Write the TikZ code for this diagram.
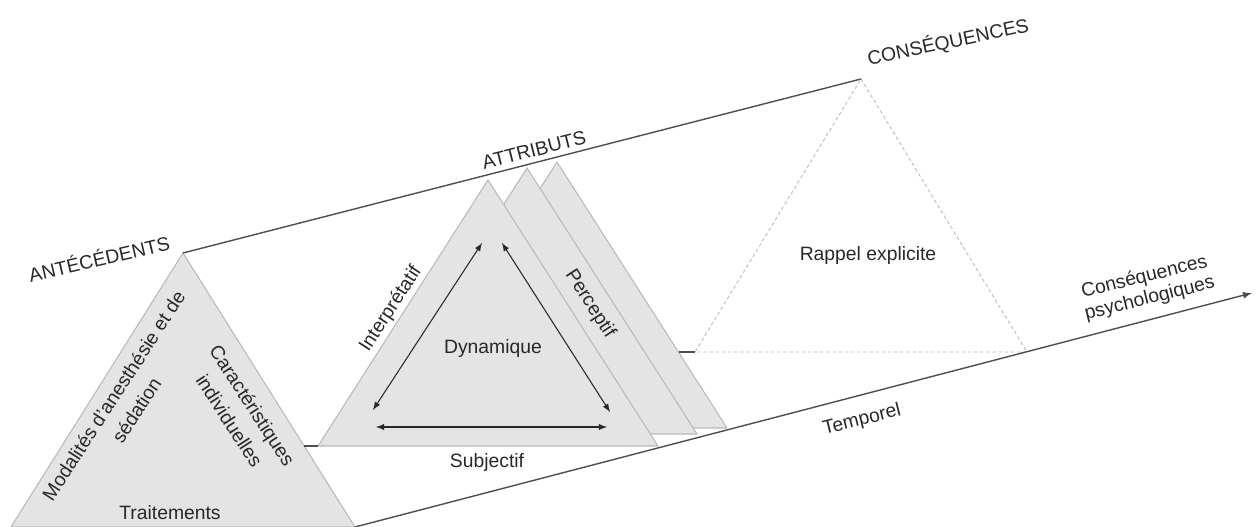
\documentclass[tikz,border=0pt]{standalone}
\usepackage{fontspec}
\setmainfont{Liberation Sans}
\usetikzlibrary{arrows}

\definecolor{facegray}{RGB}{228,228,228}
\definecolor{edgegray}{RGB}{185,185,185}
\definecolor{axisgray}{RGB}{78,78,78}
\definecolor{inkgray}{RGB}{40,40,40}

\begin{document}
\begin{tikzpicture}[
  lab/.style={font=\fontsize{11}{12.5}\selectfont, text=inkgray, inner sep=0pt, align=center},
  widelab/.style={lab, font=\fontsize{11}{15.5}\selectfont},
  face/.style={fill=facegray, draw=edgegray, line width=0.6pt, line join=round},
  axis/.style={draw=axisgray, line width=0.8pt},
  ghost/.style={draw=edgegray, line width=0.5pt, dash pattern=on 2pt off 1.5pt},
  link/.style={draw=inkgray, line width=0.6pt, latex-latex}
]
  \useasboundingbox (0,0) rectangle (25.14,10.54);

  % corners
  \coordinate (ant) at (3.66,5.48);
  \coordinate (antL) at (0.22,0);
  \coordinate (antR) at (7.10,0);
  \coordinate (antE) at (6.08,1.62);
  \coordinate (att1) at (9.76,6.94);
  \coordinate (att1L) at (6.36,1.62);
  \coordinate (att1R) at (13.16,1.62);
  \coordinate (att2) at (10.54,7.18);
  \coordinate (att2L) at (7.14,1.86);
  \coordinate (att2R) at (13.94,1.86);
  \coordinate (att3) at (11.14,7.30);
  \coordinate (att3L) at (7.74,1.98);
  \coordinate (att3R) at (14.54,1.98);
  \coordinate (att3E) at (13.57,3.50);
  \coordinate (csq) at (17.22,8.96);
  \coordinate (csqL) at (13.90,3.50);
  \coordinate (csqR) at (20.54,3.50);
  \coordinate (fin) at (25.04,4.68);

  % triangles
  \draw[face] (ant) -- (antR) -- (antL) -- cycle;
  \draw[face] (att3) -- (att3R) -- (att3L) -- cycle;
  \draw[face] (att2) -- (att2R) -- (att2L) -- cycle;
  \draw[face] (att1) -- (att1R) -- (att1L) -- cycle;
  \draw[ghost] (csq) -- (csqR) -- (csqL) -- cycle;

  % axes
  \draw[axis] (ant) -- (csq);
  \draw[axis, -latex] (antR) -- (fin);
  \draw[axis] (antE) -- (att1L);
  \draw[axis] (att3E) -- (csqL);

  % dynamique
  \coordinate (dynBL) at (7.46,2.34);
  \coordinate (dynTL) at (9.64,5.68);
  \coordinate (dynTR) at (10.04,5.68);
  \coordinate (dynBR) at (12.20,2.30);
  \coordinate (dynSL) at (7.52,2.00);
  \coordinate (dynSR) at (12.14,2.00);
  \draw[link] (dynBL) -- (dynTL);
  \draw[link] (dynTR) -- (dynBR);
  \draw[link] (dynSL) -- (dynSR);

  % labels
  \node[lab, rotate=13] (antlab) at (1.98,5.38) {ANTÉCÉDENTS};
  \node[lab, rotate=14] (attlab) at (10.68,7.54) {ATTRIBUTS};
  \node[lab, rotate=12] (csqlab) at (18.96,9.70) {CONSÉQUENCES};
  \node[widelab, rotate=57] (modal) at (2.50,2.48) {Modalités d'anesthésie et de\\sédation};
  \node[widelab, rotate=-57] (indiv) at (4.82,2.28) {Caractéristiques\\individuelles};
  \node[lab] (trait) at (3.40,0.28) {Traitements};
  \node[lab, rotate=57] (interp) at (7.82,4.36) {Interprétatif};
  \node[lab, rotate=-57] (percep) at (11.80,4.46) {Perceptif};
  \node[lab] (dyn) at (9.86,3.56) {Dynamique};
  \node[lab] (subj) at (9.74,1.28) {Subjectif};
  \node[lab] (rappel) at (17.36,5.42) {Rappel explicite};
  \node[lab, rotate=14] (temp) at (17.24,2.14) {Temporel};
  \node[lab, rotate=14] (psy) at (22.94,4.78) {Conséquences\\psychologiques};
\end{tikzpicture}
\end{document}
